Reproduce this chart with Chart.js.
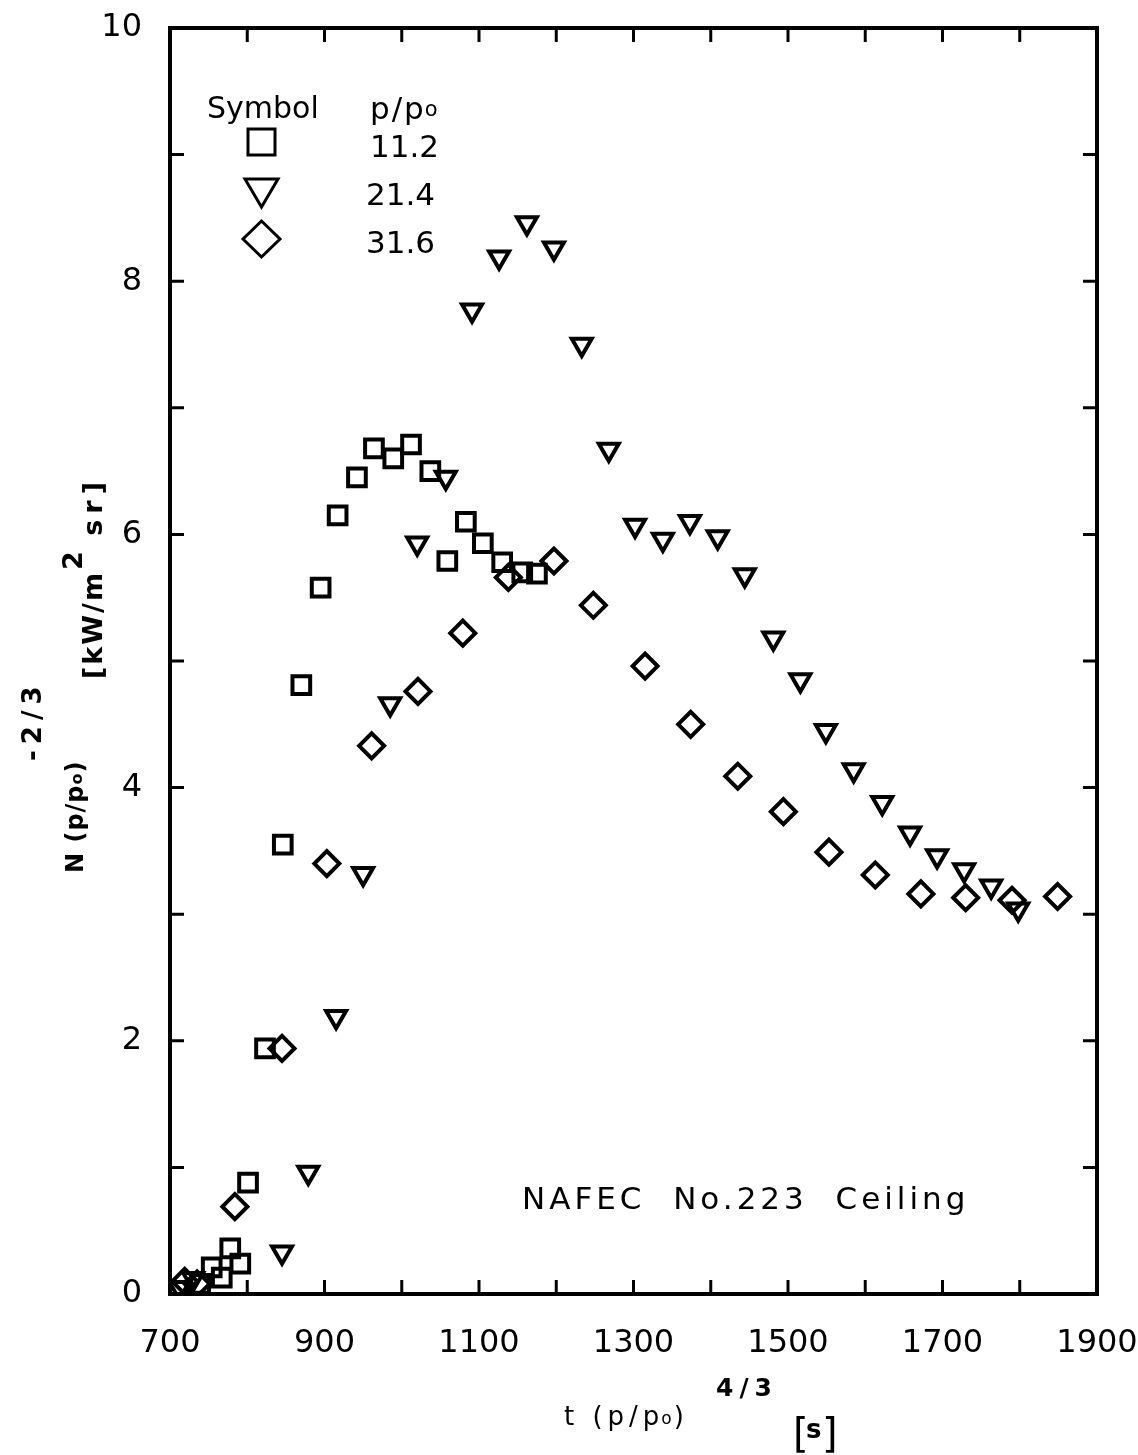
<!DOCTYPE html>
<html>
<head>
<meta charset="utf-8">
<script src="https://cdn.jsdelivr.net/npm/chart.js@4.4.0/dist/chart.umd.min.js"></script>
<style>
  body { margin: 0; background: #fff; }
  canvas { display: block; }
</style>
</head>
<body>
<canvas id="grafico" width="1138" height="1455"></canvas>
<script>
// t (p/p0)^4/3 [s]  x  N (p/p0)^-2/3 [kW/m2 sr]
var pressoes = ["11.2", "21.4", "31.6"];

// quadrados, p/p0 = 11.2
var tempo1 = [739, 754, 767, 778, 791, 801, 823, 846, 870, 895, 917, 942, 964, 989, 1012, 1037, 1059, 1083, 1105, 1130, 1156, 1175];
var valor1 = [0.08, 0.21, 0.13, 0.36, 0.24, 0.88, 1.94, 3.55, 4.81, 5.58, 6.15, 6.45, 6.68, 6.60, 6.71, 6.50, 5.79, 6.10, 5.93, 5.78, 5.70, 5.69];

// triangulos, p/p0 = 21.4
var tempo2 = [712, 730, 845, 879, 915, 950, 985, 1020, 1057, 1091, 1126, 1162, 1197, 1233, 1268, 1302, 1338, 1373, 1409, 1444, 1481, 1516, 1549, 1585, 1622, 1658, 1693, 1728, 1763, 1798];
var valor2 = [0.05, 0.12, 0.33, 0.96, 2.19, 3.32, 4.66, 5.93, 6.45, 7.77, 8.19, 8.46, 8.26, 7.50, 6.67, 6.07, 5.96, 6.10, 5.98, 5.68, 5.18, 4.85, 4.45, 4.14, 3.88, 3.64, 3.46, 3.35, 3.22, 3.04];

// losangos, p/p0 = 31.6
var tempo3 = [719, 735, 784, 845, 903, 961, 1021, 1079, 1138, 1197, 1248, 1315, 1374, 1435, 1494, 1553, 1613, 1672, 1730, 1790, 1849];
var valor3 = [0.10, 0.08, 0.69, 1.94, 3.40, 4.33, 4.76, 5.22, 5.66, 5.79, 5.44, 4.96, 4.50, 4.09, 3.81, 3.49, 3.31, 3.16, 3.13, 3.11, 3.14];

var xTicksLabels = [700, 900, 1100, 1300, 1500, 1700, 1900];
var yTicksLabels = [0, 2, 4, 6, 8, 10];

var fonte = "'DejaVu Sans', sans-serif";

function pontos(xs, ys) {
  var lista = [];
  for (var i = 0; i < xs.length; i++) {
    lista.push({ x: xs[i], y: ys[i] });
  }
  return lista;
}

// texto com pedacos (sobrescrito / subscrito)
function textoPartes(ctx, partes, x, y) {
  var pos = x;
  for (var i = 0; i < partes.length; i++) {
    var p = partes[i];
    ctx.font = p.font;
    ctx.letterSpacing = (p.ls || 0) + "px";
    ctx.fillText(p.t, pos + (p.dx || 0), y + (p.dy || 0));
    pos += ctx.measureText(p.t).width + (p.dx || 0);
  }
  ctx.letterSpacing = "0px";
}

function semPadding(scale) {
  scale.paddingLeft = 0;
  scale.paddingRight = 0;
  scale.paddingTop = 0;
  scale.paddingBottom = 0;
}

var extras = {
  id: "extras",
  afterDatasetsDraw: function (chart) {
    var ctx = chart.ctx;
    var a = chart.chartArea;
    var sx = chart.scales.x;
    var sy = chart.scales.y;
    ctx.save();
    ctx.strokeStyle = "#000";
    ctx.fillStyle = "#000";
    ctx.lineCap = "butt";

    // ticks para dentro
    ctx.lineWidth = 3;
    ctx.beginPath();
    sx.ticks.forEach(function (t) {
      if (t.value <= sx.min || t.value >= sx.max) return;
      var px = sx.getPixelForValue(t.value);
      ctx.moveTo(px, a.bottom);
      ctx.lineTo(px, a.bottom - 14);
      ctx.moveTo(px, a.top);
      ctx.lineTo(px, a.top + 14);
    });
    sy.ticks.forEach(function (t) {
      if (t.value <= sy.min || t.value >= sy.max) return;
      var py = sy.getPixelForValue(t.value);
      ctx.moveTo(a.left, py);
      ctx.lineTo(a.left + 14, py);
      ctx.moveTo(a.right, py);
      ctx.lineTo(a.right - 14, py);
    });
    ctx.stroke();

    ctx.lineWidth = 4;
    ctx.strokeRect(a.left, a.top, a.width, a.height);

    // legenda
    ctx.textBaseline = "alphabetic";
    ctx.textAlign = "left";
    ctx.font = "30px " + fonte;
    ctx.fillText("Symbol", 207, 118);
    textoPartes(ctx, [
      { t: "p/p", font: "31px " + fonte, ls: 2 },
      { t: "o", font: "21px " + fonte, dx: -1, dy: -3 }
    ], 370, 119);
    ctx.font = "31px " + fonte;
    ctx.fillText(pressoes[0], 370, 157);
    ctx.fillText(pressoes[1], 366, 205);
    ctx.fillText(pressoes[2], 366, 253);

    ctx.lineWidth = 3;
    ctx.strokeRect(248, 129, 27, 26);
    ctx.beginPath();
    ctx.moveTo(245, 179);
    ctx.lineTo(278, 179);
    ctx.lineTo(261.5, 207);
    ctx.closePath();
    ctx.stroke();
    ctx.beginPath();
    ctx.moveTo(261.5, 221);
    ctx.lineTo(280, 239);
    ctx.lineTo(261.5, 257);
    ctx.lineTo(243, 239);
    ctx.closePath();
    ctx.stroke();

    // anotacao
    ctx.font = "31px " + fonte;
    ctx.letterSpacing = "4px";
    ctx.fillText("NAFEC  No.223  Ceiling", 522, 1209);
    ctx.letterSpacing = "0px";

    // titulo eixo x
    textoPartes(ctx, [
      { t: "t (p/p", font: "26px " + fonte, ls: 5 },
      { t: "o", font: "17px " + fonte, dx: -3, dy: -1 },
      { t: ")", font: "26px " + fonte, dx: 2 }
    ], 564, 1425);
    ctx.font = "bold 25px " + fonte;
    ctx.letterSpacing = "6px";
    ctx.fillText("4/3", 716, 1396);
    ctx.letterSpacing = "0px";
    ctx.font = "40px " + fonte;
    ctx.fillText("[", 793, 1447);
    ctx.fillText("]", 822, 1447);
    ctx.font = "bold 26px " + fonte;
    ctx.fillText("s", 806, 1438);

    // titulo eixo y (girado)
    ctx.save();
    ctx.translate(83, 873);
    ctx.rotate(-Math.PI / 2);
    textoPartes(ctx, [
      { t: "N (p/p", font: "bold 24px " + fonte, ls: 1 },
      { t: "o", font: "bold 16px " + fonte, dx: 0, dy: -1 },
      { t: ")", font: "bold 24px " + fonte, dx: 1 }
    ], 0, 0);
    ctx.font = "bold 26px " + fonte;
    ctx.letterSpacing = "6px";
    ctx.fillText("-2/3", 112, -42);
    ctx.letterSpacing = "0px";
    textoPartes(ctx, [
      { t: "[kW/m", font: "bold 27px " + fonte, ls: 2 },
      { t: "2", font: "bold 27px " + fonte, dy: -20, dx: 1 },
      { t: " sr]", font: "bold 27px " + fonte, ls: 6, dx: 0 }
    ], 194, 19);
    ctx.restore();

    ctx.restore();
  }
};

var ctx1 = document.getElementById("grafico").getContext("2d");
var grafico = new Chart(ctx1, {
  type: "scatter",
  data: {
    datasets: [
      {
        label: pressoes[0],
        data: pontos(tempo1, valor1),
        pointStyle: "rect",
        pointRadius: 12.5,
        pointBorderWidth: 4,
        borderColor: "#000",
        backgroundColor: "rgba(0,0,0,0)",
      },
      {
        label: pressoes[1],
        data: pontos(tempo2, valor2),
        pointStyle: "triangle",
        rotation: 180,
        pointRadius: 11.5,
        pointBorderWidth: 4,
        borderColor: "#000",
        backgroundColor: "rgba(0,0,0,0)",
      },
      {
        label: pressoes[2],
        data: pontos(tempo3, valor3),
        pointStyle: "rectRot",
        pointRadius: 12.5,
        pointBorderWidth: 4,
        borderColor: "#000",
        backgroundColor: "rgba(0,0,0,0)",
      },
    ],
  },
  options: {
    responsive: false,
    animation: false,
    layout: {
      padding: { left: 0, top: 28, right: 41, bottom: 0 },
    },
    plugins: {
      legend: { display: false },
      tooltip: { enabled: false },
    },
    scales: {
      x: {
        type: "linear",
        min: 700,
        max: 1900,
        afterFit: function (scale) { scale.height = 161; semPadding(scale); },
        grid: { display: false },
        border: { display: false },
        ticks: {
          stepSize: 100,
          autoSkip: false,
          maxRotation: 0,
          padding: 22,
          color: "#000",
          font: { size: 32, family: fonte },
          callback: function (v) {
            return xTicksLabels.indexOf(v) >= 0 ? String(v) : "";
          },
        },
      },
      y: {
        type: "linear",
        min: 0,
        max: 10,
        afterFit: function (scale) { scale.width = 170; semPadding(scale); },
        grid: { display: false },
        border: { display: false },
        ticks: {
          stepSize: 1,
          autoSkip: false,
          padding: 20,
          color: "#000",
          font: { size: 32, family: fonte },
          callback: function (v) {
            return yTicksLabels.indexOf(v) >= 0 ? String(v) : "";
          },
        },
      },
    },
  },
  plugins: [extras],
});
</script>
</body>
</html>
